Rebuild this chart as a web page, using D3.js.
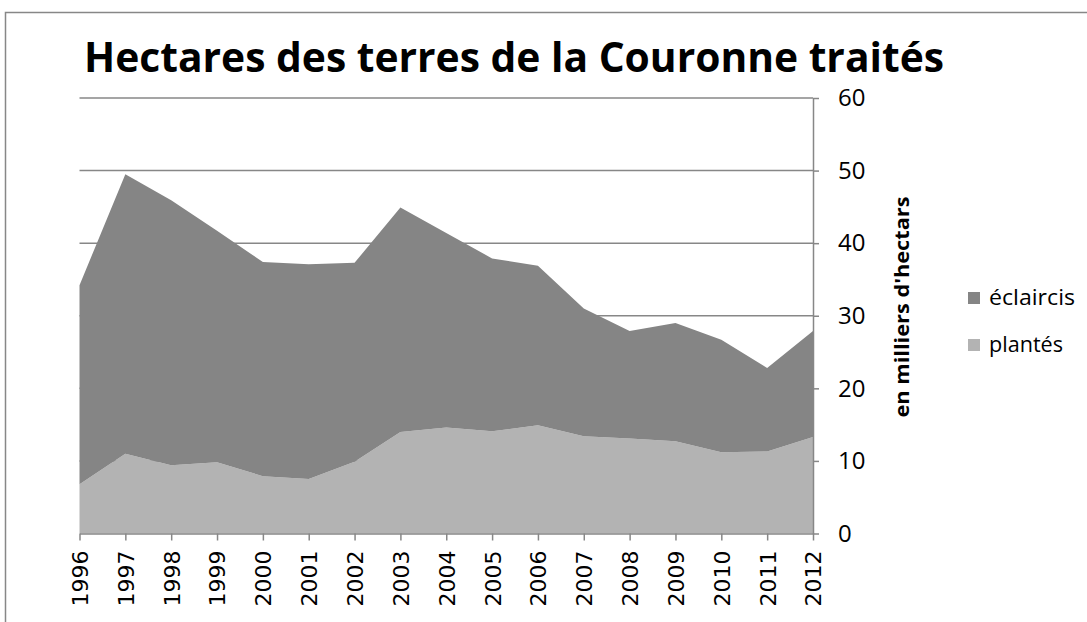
<!DOCTYPE html>
<html>
<head>
<meta charset="utf-8">
<script src="https://cdn.jsdelivr.net/npm/d3@7"></script>
<style>
  body { margin: 0; background: #fff; }
  svg { display: block; }
</style>
</head>
<body>
<div id="chart"></div>
<script>
// data (thousands of hectares)
const years = ["1996","1997","1998","1999","2000","2001","2002","2003","2004","2005","2006","2007","2008","2009","2010","2011","2012"];
const plantes = [6.8, 11.0, 9.4, 9.8, 7.9, 7.5, 9.9, 14.0, 14.6, 14.1, 14.9, 13.4, 13.1, 12.7, 11.2, 11.3, 13.3];
const eclaircis = [27.4, 38.5, 36.5, 31.9, 29.5, 29.6, 27.4, 30.9, 26.8, 23.8, 22.0, 17.6, 14.8, 16.3, 15.5, 11.5, 14.6];
const yTicks = [0, 10, 20, 30, 40, 50, 60];
const seriesNames = ["plantés", "éclaircis"];
const colors = { "plantés": "#b3b3b3", "éclaircis": "#858585" };

const width = 1087;
const height = 622;
const plot = { left: 79.5, right: 813, top: 98, bottom: 533.5 };
const axisColor = "#878787";

const svg = d3.select("#chart").append("svg")
  .attr("width", width)
  .attr("height", height);

// chart frame (runs off the right and bottom edge)
svg.append("rect")
  .attr("x", 5.5).attr("y", 12.5)
  .attr("width", 1200).attr("height", 800)
  .attr("fill", "none")
  .attr("stroke", axisColor)
  .attr("stroke-width", 1.5);

svg.append("text")
  .attr("x", 84).attr("y", 72)
  .attr("font-family", "'Open Sans', sans-serif")
  .attr("font-weight", "bold")
  .attr("font-size", 42)
  .attr("textLength", 860)
  .attr("lengthAdjust", "spacingAndGlyphs")
  .attr("fill", "#000")
  .text("Hectares des terres de la Couronne traités");

const x = d3.scalePoint().domain(years).range([plot.left, plot.right]);
const y = d3.scaleLinear().domain([0, 60]).range([plot.bottom, plot.top]);

// gridlines
svg.append("g")
  .selectAll("line")
  .data(yTicks.filter(d => d > 0))
  .join("line")
  .attr("x1", plot.left).attr("x2", plot.right)
  .attr("y1", d => y(d)).attr("y2", d => y(d))
  .attr("stroke", axisColor)
  .attr("stroke-width", 1.5);

// stacked areas
const table = years.map((yr, i) => ({ year: yr, "plantés": plantes[i], "éclaircis": eclaircis[i] }));
const stacked = d3.stack().keys(seriesNames)(table);

const area = d3.area()
  .x(d => x(d.data.year))
  .y0(d => y(d[0]))
  .y1(d => y(d[1]));

svg.append("g")
  .selectAll("path")
  .data(stacked)
  .join("path")
  .attr("fill", d => colors[d.key])
  .attr("d", area);

// right axis
const yAxis = svg.append("g")
  .attr("transform", `translate(${plot.right},0)`)
  .call(d3.axisRight(y).tickValues(yTicks).tickSize(6).tickPadding(19).tickSizeOuter(0));
yAxis.select(".domain").attr("stroke", axisColor).attr("stroke-width", 1.5);
yAxis.selectAll(".tick line").attr("stroke", axisColor).attr("stroke-width", 1.5);
yAxis.selectAll(".tick text")
  .attr("font-family", "'Open Sans', sans-serif")
  .attr("font-size", 24)
  .attr("fill", "#000");

// bottom axis
const xAxis = svg.append("g")
  .attr("transform", `translate(0,${plot.bottom})`)
  .call(d3.axisBottom(x).tickSize(7).tickSizeOuter(0));
xAxis.select(".domain").attr("stroke", axisColor).attr("stroke-width", 1.5);
xAxis.selectAll(".tick line").attr("stroke", axisColor).attr("stroke-width", 1.5);
xAxis.selectAll(".tick text")
  .attr("font-family", "'DejaVu Sans', sans-serif")
  .attr("font-size", 22)
  .attr("fill", "#000")
  .attr("text-anchor", "end")
  .attr("transform", "rotate(-90)")
  .attr("x", -17)
  .attr("y", 0)
  .attr("dy", "0.36em");

// axis title
svg.append("text")
  .attr("transform", "translate(909,307) rotate(-90)")
  .attr("text-anchor", "middle")
  .attr("font-family", "'Open Sans', sans-serif")
  .attr("font-weight", "bold")
  .attr("font-size", 19)
  .attr("textLength", 221)
  .attr("lengthAdjust", "spacingAndGlyphs")
  .attr("fill", "#000")
  .text("en milliers d'hectars");

// legend
const legendItems = ["éclaircis", "plantés"];
const legend = svg.append("g")
  .selectAll("g")
  .data(legendItems)
  .join("g")
  .attr("transform", (d, i) => `translate(968,${292 + i * 47})`);

legend.append("rect")
  .attr("width", 12).attr("height", 12)
  .attr("fill", d => colors[d]);

legend.append("text")
  .attr("x", 21).attr("y", 12.5)
  .attr("font-family", "'Open Sans', sans-serif")
  .attr("font-size", 22)
  .attr("textLength", d => d === "éclaircis" ? 86 : 74)
  .attr("lengthAdjust", "spacingAndGlyphs")
  .attr("fill", "#000")
  .text(d => d);
</script>
</body>
</html>
